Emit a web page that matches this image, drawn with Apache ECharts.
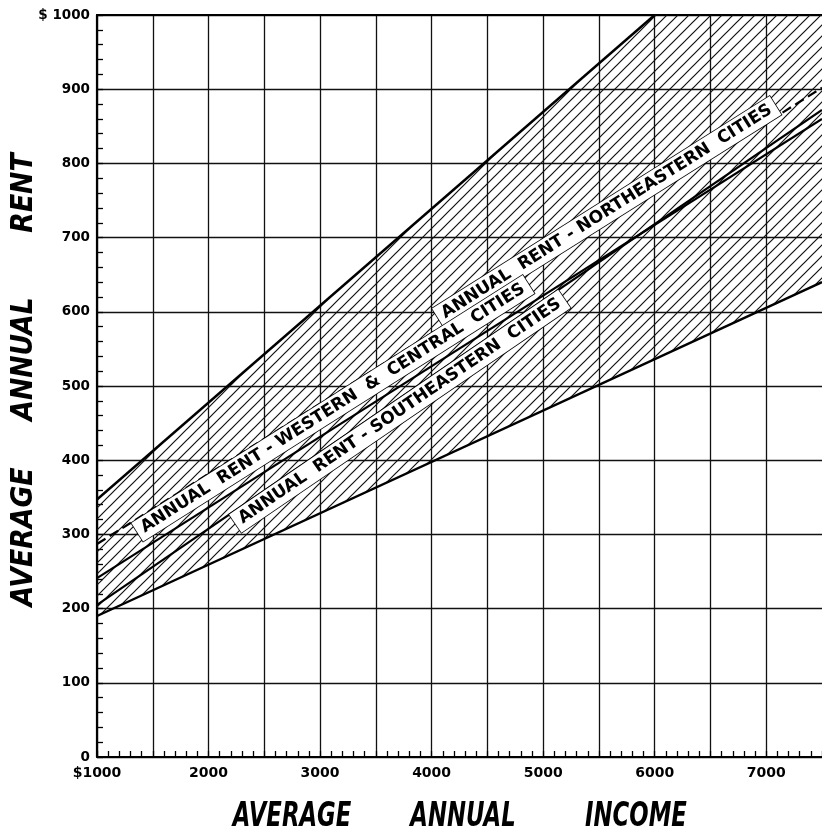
<!DOCTYPE html>
<html>
<head>
<meta charset="utf-8">
<script src="https://cdn.jsdelivr.net/npm/echarts@6/dist/echarts.min.js"></script>
<style>
html,body{margin:0;padding:0;background:#fff;}
#chart{width:822px;height:831px;}
</style>
</head>
<body>
<div id="chart"></div>
<script>
// ---- data ----
const incomeMin = 1000, incomeMax = 7500;
const rentMin = 0, rentMax = 1000;
// upper boundary of the band
const upperIncome = [1000, 6000];
const upperRent   = [347, 1000];
// lower boundary of the band
const lowerIncome = [1000, 7500];
const lowerRent   = [190, 640];
// Northeastern cities (dashed)
const neIncome = [1000, 7500];
const neRent   = [287, 902];
// Western & Central cities
const wcIncome = [1000, 7500];
const wcRent   = [241, 860];
// Southeastern cities
const seIncome = [1000, 7500];
const seRent   = [205, 872];
// hatched band outline
const bandIncome = [1000, 7500, 7500, 6000, 1000];
const bandRent   = [190, 640, 1000, 1000, 347];
// line labels
const labelTexts  = ['ANNUAL  RENT - NORTHEASTERN  CITIES', 'ANNUAL  RENT - WESTERN  &  CENTRAL  CITIES', 'ANNUAL  RENT - SOUTHEASTERN  CITIES'];
const labelIncome = [5570, 3115, 3715];
const labelRent   = [735, 470, 466];
// axis titles (words)
const xTitleWords = ['AVERAGE', 'ANNUAL', 'INCOME'];
const yTitleWords = ['AVERAGE', 'ANNUAL', 'RENT'];

const pairs = (xs, ys) => xs.map((x, i) => [x, ys[i]]);

// hatch pattern
function makeHatch() {
  const s = 11;
  const c = document.createElement('canvas');
  c.width = s; c.height = s;
  const g = c.getContext('2d');
  g.strokeStyle = '#111';
  g.lineWidth = 1.2;
  g.beginPath();
  g.moveTo(-1, s + 1); g.lineTo(s + 1, -1);
  g.moveTo(-1, 1); g.lineTo(1, -1);
  g.moveTo(s - 1, s + 1); g.lineTo(s + 1, s - 1);
  g.stroke();
  return c;
}
const hatch = makeHatch();

const chart = echarts.init(document.getElementById('chart'), null, {renderer: 'canvas'});
const tickFont = {fontFamily: 'DejaVu Sans', fontWeight: 'bold', color: '#000'};
const titleFontStr = 'italic bold 34px "DejaVu Sans"';
const yTitleFontStr = 'italic bold 30px "DejaVu Sans"';

const lineStyleBase = {color: '#000', width: 2.2};

// title word placement (pixels in the page)
const xTitleCenters = [292, 463, 636];
const yTitleCenters = [537, 359, 193];

const graphics = [];
xTitleWords.forEach((w, i) => graphics.push({
  type: 'text', x: xTitleCenters[i], y: 817, scaleX: 0.67, silent: true,
  style: {text: w, font: titleFontStr, fill: '#000', align: 'center', verticalAlign: 'middle'}
}));
yTitleWords.forEach((w, i) => graphics.push({
  type: 'text', x: 24, y: yTitleCenters[i], rotation: Math.PI / 2, scaleX: 0.89, silent: true,
  style: {text: w, font: yTitleFontStr, fill: '#000', align: 'center', verticalAlign: 'middle'}
}));

const option = {
  animation: false,
  backgroundColor: '#fff',
  grid: {left: 97, right: 0, top: 15, bottom: 74, containLabel: false, outerBoundsMode: 'none'},
  graphic: graphics,
  xAxis: [{
    type: 'value', min: incomeMin, max: incomeMax, interval: 500,
    axisLine: {show: true, lineStyle: {color: '#000', width: 2.2}},
    axisTick: {show: true, inside: true, length: 6, lineStyle: {color: '#000', width: 1.3}},
    minorTick: {show: true, splitNumber: 5, length: 6, lineStyle: {color: '#000', width: 1.3}},
    splitLine: {show: true, showMaxLine: false, lineStyle: {color: '#111', width: 1.3}},
    axisLabel: Object.assign({margin: 9, fontSize: 14, formatter: v => (v % 1000 === 0 ? (v === 1000 ? '$1000' : String(v)) : '')}, tickFont)
  }, {
    type: 'value', min: incomeMin, max: incomeMax, position: 'top',
    axisLine: {show: true, lineStyle: {color: '#000', width: 2.2}},
    axisTick: {show: false}, axisLabel: {show: false}, splitLine: {show: false}
  }],
  yAxis: {
    type: 'value', min: rentMin, max: rentMax, interval: 100,
    axisLine: {show: true, lineStyle: {color: '#000', width: 2.2}},
    axisTick: {show: true, inside: true, length: 6, lineStyle: {color: '#000', width: 1.3}},
    minorTick: {show: true, splitNumber: 5, length: 6, lineStyle: {color: '#000', width: 1.3}},
    splitLine: {show: true, lineStyle: {color: '#111', width: 1.3}},
    axisLabel: Object.assign({margin: 7, fontSize: 13.5, formatter: v => (v === 1000 ? '$ 1000' : String(v))}, tickFont)
  },
  series: [
    {
      id: 'band', type: 'custom', xAxisIndex: 0, yAxisIndex: 0, z: 3,
      data: pairs(bandIncome, bandRent), encode: {x: 0, y: 1},
      renderItem: function (params, api) {
        if (params.dataIndex !== 0) return null;
        const pts = bandIncome.map((x, i) => api.coord([x, bandRent[i]]));
        return {type: 'polygon', shape: {points: pts}, style: {fill: {image: hatch, repeat: 'repeat'}, stroke: null}};
      },
      silent: true
    },
    {id: 'upper', type: 'line', data: pairs(upperIncome, upperRent), symbol: 'none', z: 4, lineStyle: Object.assign({}, lineStyleBase, {width: 2.4})},
    {id: 'lower', type: 'line', data: pairs(lowerIncome, lowerRent), symbol: 'none', z: 4, lineStyle: Object.assign({}, lineStyleBase, {width: 2.4})},
    {id: 'ne', type: 'line', data: pairs(neIncome, neRent), symbol: 'none', z: 4, lineStyle: Object.assign({}, lineStyleBase, {width: 2.2, type: [10, 5]})},
    {id: 'wc', type: 'line', data: pairs(wcIncome, wcRent), symbol: 'none', z: 4, lineStyle: Object.assign({}, lineStyleBase, {width: 2.2})},
    {id: 'se', type: 'line', data: pairs(seIncome, seRent), symbol: 'none', z: 4, lineStyle: Object.assign({}, lineStyleBase, {width: 2.2})},
    {
      id: 'labels', type: 'scatter', z: 10, symbolSize: 0.5,
      itemStyle: {color: '#fff', opacity: 1},
      emphasis: {disabled: true},
      data: labelTexts.map((t, i) => ({name: t, value: [labelIncome[i], labelRent[i]]})),
      label: {
        show: true, position: 'inside', formatter: p => p.name, opacity: 1,
        fontFamily: 'DejaVu Sans', fontWeight: 'bold', fontSize: 17, color: '#000',
        backgroundColor: '#ffffff', borderColor: '#000', borderWidth: 0.8,
        padding: [3, 6, 2, 6]
      }
    }
  ]
};
chart.setOption(option);

// rotate each label along its line, using the chart's own scales
function angleOf(xs, ys) {
  const a = chart.convertToPixel({xAxisIndex: 0, yAxisIndex: 0}, [xs[0], ys[0]]);
  const b = chart.convertToPixel({xAxisIndex: 0, yAxisIndex: 0}, [xs[xs.length - 1], ys[ys.length - 1]]);
  return -Math.atan2(b[1] - a[1], b[0] - a[0]) * 180 / Math.PI;
}
const rots = [angleOf(neIncome, neRent), angleOf(wcIncome, wcRent), angleOf(seIncome, seRent)];
chart.setOption({
  series: [{
    id: 'labels',
    data: labelTexts.map((t, i) => ({name: t, value: [labelIncome[i], labelRent[i]], label: {rotate: rots[i]}}))
  }]
});
</script>
</body>
</html>
